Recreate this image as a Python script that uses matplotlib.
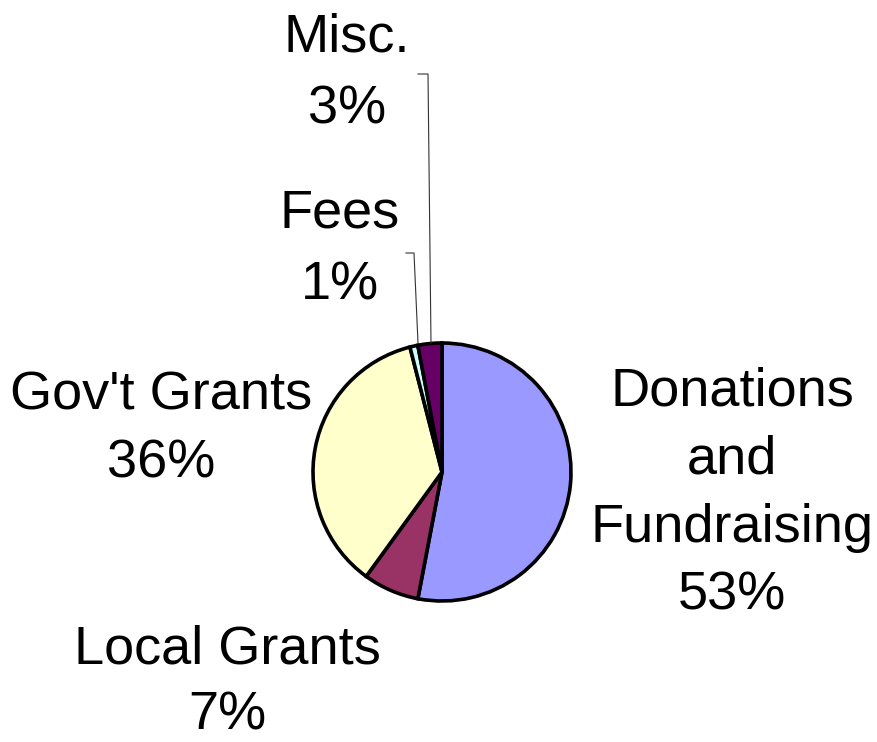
import matplotlib
matplotlib.use("Agg")
import matplotlib.pyplot as plt

# sources of income, clockwise from 12 o'clock
categories = ["Donations\nand\nFundraising", "Local Grants", "Gov't Grants", "Fees", "Misc."]
shares = [53, 7, 36, 1, 3]
colors = ["#9999FF", "#993366", "#FFFFCC", "#CCFFFF", "#660066"]

W, H = 878, 742

def py(y):
    # pixel row (from top) -> data y
    return H - y

plt.rcParams['font.family'] = ['Liberation Sans', 'DejaVu Sans']

fig = plt.figure(figsize=(W / 100, H / 100), dpi=100)
ax = fig.add_axes([0, 0, 1, 1])

ax.pie(shares, colors=colors, startangle=90, counterclock=False,
       center=(442, py(472)), radius=129, frame=True,
       wedgeprops=dict(edgecolor='black', linewidth=2.6))
ax.set_xlim(0, W)
ax.set_ylim(0, H)
ax.set_aspect('equal')
ax.axis('off')

# label anchor: centre x, baseline of first line, line step (pixels)
label_pos = [(732, 406, 68), (227, 663, 67), (161, 410, 68), (340, 227, 73), (347, 52, 71)]
for name, share, (x, y0, step) in zip(categories, shares, label_pos):
    lines = name.split("\n") + [f"{share}%"]
    for i, line in enumerate(lines):
        ax.text(x, py(y0 + i * step), line, ha='center', va='baseline',
                fontsize=39, color='black')

# leader lines for the two thin slices
ax.plot([418, 428, 431], [py(74), py(74), py(343)], color='#333333', lw=0.8)
ax.plot([406, 414, 418], [py(253), py(253), py(343)], color='#333333', lw=0.8)

fig.savefig("out.png", dpi=100, facecolor='white')
